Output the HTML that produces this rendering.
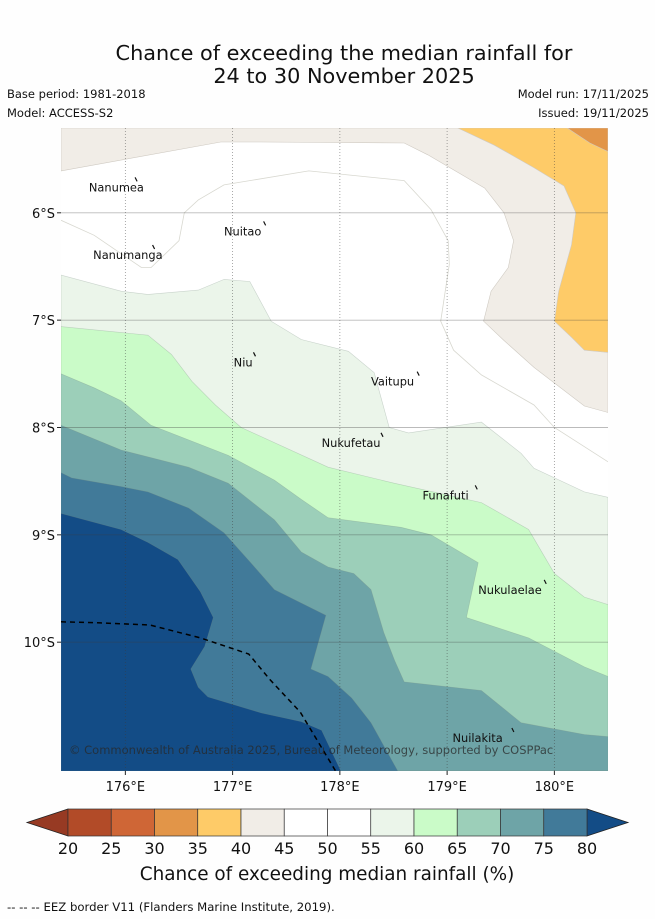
<!DOCTYPE html>
<html><head><meta charset="utf-8"><style>
body{margin:0;background:#fefefe;}
svg{display:block;font-family:"DejaVu Sans","Liberation Sans",sans-serif;}
</style></head><body>
<svg id="chart" width="655" height="919" viewBox="0 0 655 919" xmlns="http://www.w3.org/2000/svg">
<rect width="655" height="919" fill="#fefefe"/>
<text x="344" y="60" font-size="20.8" text-anchor="middle" fill="#111">Chance of exceeding the median rainfall for</text>
<text x="344" y="83" font-size="20.8" text-anchor="middle" fill="#111">24 to 30 November 2025</text>
<text x="7" y="98" font-size="11.5" fill="#111">Base period: 1981-2018</text>
<text x="7" y="117" font-size="11.5" fill="#111">Model: ACCESS-S2</text>
<text x="649" y="98" font-size="11.5" fill="#111" text-anchor="end">Model run: 17/11/2025</text>
<text x="649" y="117" font-size="11.5" fill="#111" text-anchor="end">Issued: 19/11/2025</text>
<g id="map"></g>
<g id="cbar"></g>
<text x="327" y="880" font-size="18.4" text-anchor="middle" fill="#111">Chance of exceeding median rainfall (%)</text>
<text x="7" y="911" font-size="11.7" fill="#111">--  --  -- EEZ border V11 (Flanders Marine Institute, 2019).</text>
</svg>
<script>
const lonTicks=[176,177,178,179,180];
const latTicks=[6,7,8,9,10];
const cbLevels=[20,25,30,35,40,45,50,55,60,65,70,75,80];
const cbColors=["#b24b28","#cf6636","#e29548","#fecb68","#f1ede7","#ffffff","#ffffff","#ebf5ea","#cafbc8","#9ccfb9","#6ea4a7","#417a99"];
const c35=[[180.12,5.21],[180.33,5.35],[180.50,5.43]];
const c40=[[179.10,5.21],[179.44,5.37],[179.81,5.58],[180.09,5.75],[180.20,6.00],[180.16,6.30],[180.04,6.73],[180.00,7.01],[180.16,7.16],[180.28,7.28],[180.50,7.30]];
const c45=[[175.40,5.61],[176.89,5.34],[177.27,5.34],[178.60,5.35],[178.82,5.46],[179.35,5.77],[179.53,6.00],[179.62,6.26],[179.57,6.51],[179.41,6.73],[179.34,7.01],[179.53,7.19],[179.81,7.44],[180.28,7.80],[180.50,7.86]];
const c50=[[175.40,6.07],[175.71,6.21],[176.15,6.51],[176.24,6.51],[176.50,6.26],[176.55,6.00],[176.68,5.88],[176.92,5.74],[177.71,5.61],[178.60,5.70],[178.85,5.97],[179.01,6.26],[179.02,6.48],[178.94,7.01],[179.06,7.28],[179.32,7.51],[179.81,7.79],[180.00,8.00],[180.50,8.32]];
const c55=[[175.40,6.58],[175.96,6.73],[176.21,6.76],[176.68,6.72],[176.92,6.62],[177.16,6.64],[177.36,7.01],[177.64,7.18],[178.08,7.29],[178.32,7.49],[178.46,8.00],[178.64,8.05],[179.32,7.95],[179.69,8.24],[179.81,8.38],[180.28,8.60],[180.50,8.65]];
const c60=[[175.40,7.06],[176.21,7.14],[176.43,7.32],[176.62,7.57],[176.84,7.79],[177.08,8.00],[177.89,8.37],[178.51,8.52],[179.32,8.70],[179.76,8.95],[180.00,9.36],[180.28,9.58],[180.50,9.65]];
const c65=[[175.40,7.50],[175.71,7.63],[175.96,7.75],[176.24,7.98],[176.96,8.26],[177.39,8.49],[177.64,8.67],[177.89,8.84],[178.57,8.93],[178.85,9.00],[179.29,9.26],[179.18,9.77],[179.76,9.96],[180.28,10.23],[180.50,10.32]];
const c70=[[175.40,7.98],[175.96,8.21],[176.59,8.37],[176.96,8.52],[177.39,8.86],[177.64,9.16],[177.89,9.30],[178.13,9.36],[178.29,9.51],[178.41,9.91],[178.51,10.17],[178.60,10.37],[179.32,10.45],[179.69,10.75],[180.28,10.86],[180.50,10.88]];
const c75=[[175.40,8.42],[175.50,8.47],[175.96,8.55],[176.21,8.60],[176.59,8.75],[176.92,8.98],[177.17,9.26],[177.39,9.51],[177.87,9.75],[177.73,10.25],[177.89,10.32],[178.11,10.52],[178.29,10.75],[178.54,11.20]];
const c80=[[175.40,8.80],[175.96,8.95],[176.21,9.07],[176.49,9.23],[176.70,9.53],[176.82,9.77],[176.74,10.04],[176.61,10.25],[176.68,10.42],[176.77,10.51],[177.27,10.66],[177.64,10.74],[177.83,10.82],[178.01,11.20]];
const eez=[[175.40,9.81],[175.77,9.82],[176.23,9.84],[176.70,9.96],[177.15,10.11],[177.35,10.35],[177.63,10.65],[177.96,11.20]];
const islandNames=["Nanumea","Nanumanga","Nuitao","Niu","Vaitupu","Nukufetau","Funafuti","Nukulaelae","Nuilakita"];
const islandLon=[175.66,175.70,176.92,177.01,178.29,177.83,178.77,179.29,179.05];
const islandLat=[5.80,6.43,6.21,7.43,7.61,8.18,8.67,9.55,10.93];

const LON0=175.40,LON1=180.50,LAT0=5.21,LAT1=11.20;
const X0=61,X1=608,Y0=128,Y1=771;
const xs=lon=>X0+(lon-LON0)/(LON1-LON0)*(X1-X0);
const ys=lat=>Y0+(lat-LAT0)/(LAT1-LAT0)*(Y1-Y0);
const NS="http://www.w3.org/2000/svg";
const map=document.getElementById('map');
function mk(tag,attrs,parent){const e=document.createElementNS(NS,tag);for(const k in attrs)e.setAttribute(k,attrs[k]);(parent||map).appendChild(e);return e;}
function pts(arr){return arr.map(p=>xs(p[0]).toFixed(1)+","+ys(p[1]).toFixed(1)).join(" ");}

const clip=mk('clipPath',{id:'mapclip'});
mk('rect',{x:X0,y:Y0,width:X1-X0,height:Y1-Y0},clip);
const g=mk('g',{'clip-path':'url(#mapclip)'});
const bg=mk('rect',{x:X0,y:Y0,width:X1-X0,height:Y1-Y0,fill:'#ffffff'},g);


const TR=[LON1,LAT0],TL=[LON0,LAT0],BR=[LON1,LAT1],BL=[LON0,LAT1];
const lowLayers=[[c45,"#f1ede7","region-40-45",[TR,TL]],[c40,"#fecb68","region-35-40",[TR]],[c35,"#e29548","region-30-35",[TR]]];
lowLayers.forEach(L=>{
  const p=mk('polygon',{points:pts(L[0].concat(L[3])),fill:L[1],stroke:'#cfcac2','stroke-width':0.6},g);
  
  
});
const c50l=mk('polyline',{points:pts(c50),fill:'none',stroke:'#d8d8d0','stroke-width':0.8},g);


const highLayers=[[c55,"#ebf5ea","region-55-60"],[c60,"#cafbc8","region-60-65"],[c65,"#9ccfb9","region-65-70"],[c70,"#6ea4a7","region-70-75"],[c75,"#417a99","region-75-80"],[c80,"#134c86","region-above-80"]];
highLayers.forEach(L=>{
  const p=mk('polygon',{points:pts(L[0].concat([BR,BL])),fill:L[1],stroke:'rgba(120,140,130,0.35)','stroke-width':0.6},g);
  
  
});
lonTicks.forEach(v=>{
  const l=mk('line',{x1:xs(v),x2:xs(v),y1:Y0,y2:Y1,stroke:'rgba(60,60,60,0.55)','stroke-width':0.8,'stroke-dasharray':'1,2'},g);
  
  
  const t=mk('line',{x1:xs(v),x2:xs(v),y1:Y1,y2:Y1+4,stroke:'#222'});
  
  
  const tx=mk('text',{x:xs(v),y:Y1+20,'font-size':13,'text-anchor':'middle',fill:'#111'});
  tx.textContent=v+"°E";
  
  
});
latTicks.forEach(v=>{
  const l=mk('line',{x1:X0,x2:X1,y1:ys(v),y2:ys(v),stroke:'rgba(60,60,60,0.35)','stroke-width':0.9},g);
  
  
  const t=mk('line',{x1:X0-4,x2:X0,y1:ys(v),y2:ys(v),stroke:'#222'});
  
  
  const tx=mk('text',{x:X0-6,y:ys(v)+5,'font-size':13,'text-anchor':'end',fill:'#111'});
  tx.textContent=v+"°S";
  
  
});
const ez=mk('polyline',{points:pts(eez),fill:'none',stroke:'#000','stroke-width':1.5,'stroke-dasharray':'5,4'},g);


islandNames.forEach((n,i)=>{
  const t=mk('text',{x:xs(islandLon[i]),y:ys(islandLat[i]),'font-size':11.4,fill:'#111'},g);
  t.textContent=n;
  
  
  const w=n.length*6.6;
  const m=mk('line',{x1:xs(islandLon[i])+w,y1:ys(islandLat[i])-14,x2:xs(islandLon[i])+w+2,y2:ys(islandLat[i])-10,stroke:'#111','stroke-width':1.2},g);
  
  
});
const cp=mk('text',{x:69,y:754,'font-size':11.5,fill:'rgba(40,40,40,0.75)'},g);
cp.textContent="© Commonwealth of Australia 2025, Bureau of Meteorology, supported by COSPPac";



const cb=document.getElementById('cbar');
const CB0=68,CB1=587,CBY=809,CBH=27;
const cx=v=>CB0+(v-cbLevels[0])/(cbLevels[cbLevels.length-1]-cbLevels[0])*(CB1-CB0);
const lt=mk('polygon',{points:`${CB0},${CBY} 27,${CBY+CBH/2} ${CB0},${CBY+CBH}`,fill:'#973a23',stroke:'#222','stroke-width':0.8},cb);


const rt=mk('polygon',{points:`${CB1},${CBY} 628,${CBY+CBH/2} ${CB1},${CBY+CBH}`,fill:'#134c86',stroke:'#222','stroke-width':0.8},cb);


cbColors.forEach((c,i)=>{
  const r=mk('rect',{x:cx(cbLevels[i]),y:CBY,width:cx(cbLevels[i+1])-cx(cbLevels[i]),height:CBH,fill:c,stroke:'#333','stroke-width':0.7},cb);
  
  
});
cbLevels.forEach(v=>{
  const t=mk('text',{x:cx(v),y:854,'font-size':16,'text-anchor':'middle',fill:'#111'},cb);
  t.textContent=v;
  
  
});
</script>
</body></html>
